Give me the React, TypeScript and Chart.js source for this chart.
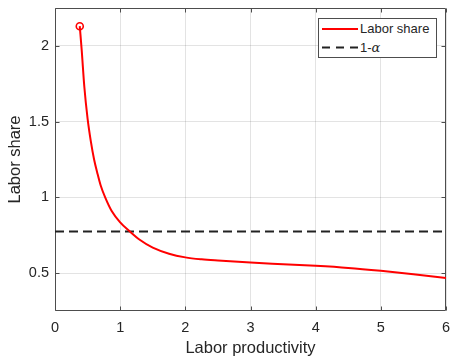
import React, { useEffect, useRef } from "react";
import { Chart, registerables } from "chart.js";

Chart.register(...registerables);

// ---- Data ----
const laborProductivity = [
  0.38, 0.41, 0.45, 0.5, 0.55, 0.6, 0.65, 0.7, 0.77, 0.87, 1.0, 1.15, 1.3,
  1.5, 1.75, 2.0, 2.25, 2.5, 3.0, 3.5, 4.0, 4.5, 5.0, 5.5, 6.0,
];
const laborShare = [
  2.13, 1.97, 1.73, 1.52, 1.37, 1.25, 1.16, 1.08, 1.0, 0.91, 0.835, 0.774,
  0.72, 0.668, 0.628, 0.604, 0.591, 0.583, 0.57, 0.559, 0.548, 0.534, 0.515,
  0.493, 0.467,
];
const alphaLineX = [0, 6];
const oneMinusAlpha = 0.775;
const xTicks = [0, 1, 2, 3, 4, 5, 6];
const yTicks = [0.5, 1, 1.5, 2];
const xRange = [0, 6];
const yRange = [0.25, 2.25];
const seriesNames = ["Labor share", "1-α"];
const xTitle = "Labor productivity";
const yTitle = "Labor share";

const FONT = "'Liberation Sans', Arial, Helvetica, sans-serif";
const TEXT = "#262626";
const GRID = "rgba(38,38,38,0.13)";
const AXIS = "#4d4d4d";
const RED = "#ff0000";
const DASH = "#222222";

const boxPlugin = {
  id: "matlabBox",
  beforeDatasetsDraw(chart: any) {
    const { ctx, chartArea: a, scales } = chart;
    ctx.save();
    ctx.strokeStyle = AXIS;
    ctx.lineWidth = 1;
    ctx.beginPath();
    const L = Math.round(a.left) + 0.5;
    const R = Math.round(a.right) - 0.5;
    const T = Math.round(a.top) + 0.5;
    const B = Math.round(a.bottom) - 0.5;
    ctx.rect(L, T, R - L, B - T);
    const tl = 4;
    xTicks.forEach((v) => {
      const px = Math.round(scales.x.getPixelForValue(v)) + 0.5;
      ctx.moveTo(px, B);
      ctx.lineTo(px, B - tl);
      ctx.moveTo(px, T);
      ctx.lineTo(px, T + tl);
    });
    yTicks.forEach((v) => {
      const py = Math.round(scales.y.getPixelForValue(v)) + 0.5;
      ctx.moveTo(L, py);
      ctx.lineTo(L + tl, py);
      ctx.moveTo(R, py);
      ctx.lineTo(R - tl, py);
    });
    ctx.stroke();
    ctx.restore();
  },
};

export default function App() {
  const ref = useRef<HTMLCanvasElement | null>(null);

  useEffect(() => {
    document.body.style.margin = "0";
    if (!ref.current) return;
    const chart = new Chart(ref.current, {
      type: "scatter",
      data: {
        datasets: [
          {
            label: seriesNames[0],
            data: laborProductivity.map((x, i) => ({ x, y: laborShare[i] })),
            showLine: true,
            borderColor: RED,
            backgroundColor: "rgba(0,0,0,0)",
            borderWidth: 2,
            cubicInterpolationMode: "monotone",
            pointRadius: laborShare.map((_, i) => (i === 0 ? 3.5 : 0)),
            pointBorderWidth: 1.6,
            pointBorderColor: RED,
            pointBackgroundColor: "rgba(0,0,0,0)",
            order: 1,
          },
          {
            label: seriesNames[1],
            data: alphaLineX.map((x) => ({ x, y: oneMinusAlpha })),
            showLine: true,
            borderColor: DASH,
            borderWidth: 2,
            borderDash: [9, 5],
            pointRadius: 0,
            order: 2,
          },
        ],
      },
      options: {
        responsive: false,
        animation: false,
        devicePixelRatio: 1,
        layout: { padding: { top: 8, right: 6, left: 0, bottom: 0 } },
        plugins: {
          legend: { display: false },
          tooltip: { enabled: false },
        },
        scales: {
          x: {
            type: "linear",
            min: xRange[0],
            max: xRange[1],
            afterBuildTicks: (s: any) => {
              s.ticks = xTicks.map((v) => ({ value: v }));
            },
            afterFit: (s: any) => {
              s.height = 47;
              s.paddingLeft = 0;
              s.paddingRight = 0;
              s.paddingTop = 0;
              s.paddingBottom = 0;
            },
            grid: { color: GRID, drawTicks: false, lineWidth: 1 },
            border: { display: false },
            ticks: {
              color: TEXT,
              padding: 8,
              font: { family: FONT, size: 14.5 },
              callback: (v: any) => String(v),
            },
            title: {
              display: true,
              text: xTitle,
              color: TEXT,
              font: { family: FONT, size: 16.5 },
              padding: { top: 0, bottom: 0 },
            },
          },
          y: {
            type: "linear",
            min: yRange[0],
            max: yRange[1],
            afterBuildTicks: (s: any) => {
              s.ticks = yTicks.map((v) => ({ value: v }));
            },
            afterFit: (s: any) => {
              s.width = 55;
              s.paddingLeft = 0;
              s.paddingRight = 0;
              s.paddingTop = 0;
              s.paddingBottom = 0;
            },
            grid: { color: GRID, drawTicks: false, lineWidth: 1 },
            border: { display: false },
            ticks: {
              color: TEXT,
              padding: 6,
              font: { family: FONT, size: 14.5 },
              callback: (v: any) => String(v),
            },
            title: {
              display: true,
              text: yTitle,
              color: TEXT,
              font: { family: FONT, size: 16.5 },
              padding: { top: 6, bottom: 0 },
            },
          },
        },
      },
      plugins: [boxPlugin],
    } as any);
    return () => chart.destroy();
  }, []);

  const rowText: React.CSSProperties = {
    position: "absolute",
    left: 41,
    height: 16,
    lineHeight: "16px",
    fontFamily: FONT,
    fontSize: 13,
    color: TEXT,
    whiteSpace: "nowrap",
  };

  return (
    <div style={{ position: "fixed", left: 0, top: 0, width: 452, height: 358, background: "#fff" }}>
      <canvas ref={ref} width={452} height={358} style={{ display: "block", width: 452, height: 358 }} />
      <div
        style={{
          position: "absolute",
          left: 318,
          top: 18,
          width: 119,
          height: 40,
          boxSizing: "border-box",
          border: `1px solid ${AXIS}`,
          background: "#fff",
        }}
      >
        <svg width={117} height={38} style={{ position: "absolute", left: 0, top: 0 }}>
          <line x1={3} y1={10} x2={39} y2={10} stroke={RED} strokeWidth={2} />
          <line x1={3} y1={28.5} x2={39} y2={28.5} stroke={DASH} strokeWidth={2} strokeDasharray="8 6" />
        </svg>
        <span style={{ ...rowText, top: 2 }}>{seriesNames[0]}</span>
        <span style={{ ...rowText, top: 20.5 }}>
          1-<i style={{ fontFamily: "'DejaVu Serif', 'Liberation Serif', serif" }}>α</i>
        </span>
      </div>
    </div>
  );
}
